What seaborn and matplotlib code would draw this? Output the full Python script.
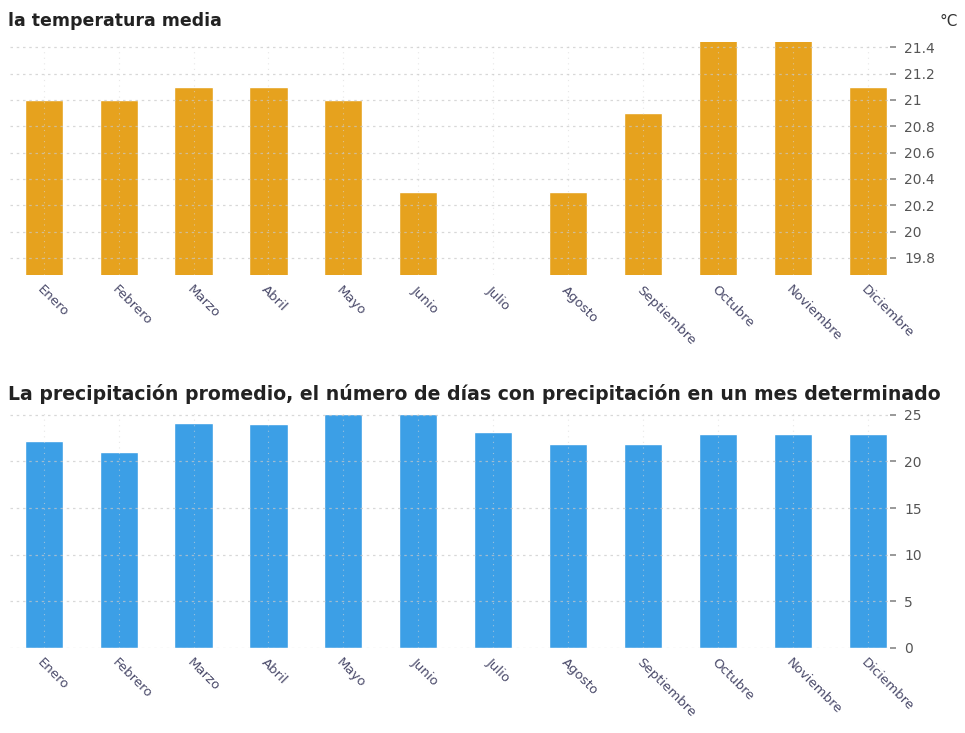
import matplotlib
matplotlib.use('Agg')
import matplotlib.pyplot as plt
import numpy as np
import pandas as pd
import seaborn as sns

meses = ['Enero', 'Febrero', 'Marzo', 'Abril', 'Mayo', 'Junio', 'Julio',
         'Agosto', 'Septiembre', 'Octubre', 'Noviembre', 'Diciembre']
# temperatura media (°C), Julio sin barra
temp = [21.0, 21.0, 21.1, 21.1, 21.0, 20.3, np.nan, 20.3, 20.9, 21.5, 21.5, 21.1]
# número de días con precipitación
dias_lluvia = [22.2, 21.0, 24.1, 24.0, 25.1, 25.1, 23.1, 21.9, 21.9, 22.9, 22.9, 22.9]

temp_ticks = [19.8, 20.0, 20.2, 20.4, 20.6, 20.8, 21.0, 21.2, 21.4]
temp_labels = ['19.8', '20', '20.2', '20.4', '20.6', '20.8', '21', '21.2', '21.4']
lluvia_ticks = [0, 5, 10, 15, 20, 25]

df = pd.DataFrame({'mes': meses, 'temp': temp, 'lluvia': dias_lluvia})

sns.set_style('white')
plt.rcParams['font.family'] = ['DejaVu Sans']

fig = plt.figure(figsize=(9.65, 7.33), dpi=100)
ax1 = fig.add_axes([0.0104, 0.6248, 0.912, 0.318])
ax2 = fig.add_axes([0.0104, 0.1160, 0.912, 0.322])

label_col = '#4a4a6a'


def style_axis(ax, ticks, labels):
    ax.set_xlim(-0.45, 11.3)
    ax.set_yticks(ticks)
    ax.set_yticklabels(labels)
    ax.yaxis.tick_right()
    ax.tick_params(axis='y', length=4, width=1.2, color='#888888', labelsize=10,
                   labelcolor='#555555', pad=6, right=True, left=False)
    ax.tick_params(axis='x', length=0, pad=6)
    ax.set_xticks(range(len(meses)))
    ax.set_xticklabels(meses, rotation=-45, ha='left', va='top',
                       rotation_mode='anchor', fontsize=9.5, color=label_col)
    ax.set_xlabel('')
    ax.set_ylabel('')
    for s in ax.spines.values():
        s.set_visible(False)
    ax.set_axisbelow(False)
    ax.grid(True, axis='y', color='#c8c8c8', linestyle=(0, (2, 3)), linewidth=0.9, alpha=0.7)
    ax.grid(True, axis='x', color='#d8d8d8', linestyle=(0, (1, 4)), linewidth=0.8, alpha=0.6)


sns.barplot(data=df, x='mes', y='temp', color='#E6A21E', width=0.51,
            saturation=1, ax=ax1, zorder=1)
ax1.set_ylim(19.67, 21.44)
style_axis(ax1, temp_ticks, temp_labels)

sns.barplot(data=df, x='mes', y='lluvia', color='#3C9FE6', width=0.51,
            saturation=1, ax=ax2, zorder=1)
ax2.set_ylim(0, 25.3)
style_axis(ax2, lluvia_ticks, [str(t) for t in lluvia_ticks])

fig.text(0.008, 0.972, 'la temperatura media', fontsize=12.5, fontweight='bold',
         color='#222222', va='center', ha='left')
fig.text(0.993, 0.970, '°C', fontsize=11, color='#333333', va='center', ha='right')
fig.text(0.008, 0.462,
         'La precipitación promedio, el número de días con precipitación en un mes determinado',
         fontsize=13.6, fontweight='bold', color='#222222', va='center', ha='left')

fig.savefig('out.png', dpi=100)
